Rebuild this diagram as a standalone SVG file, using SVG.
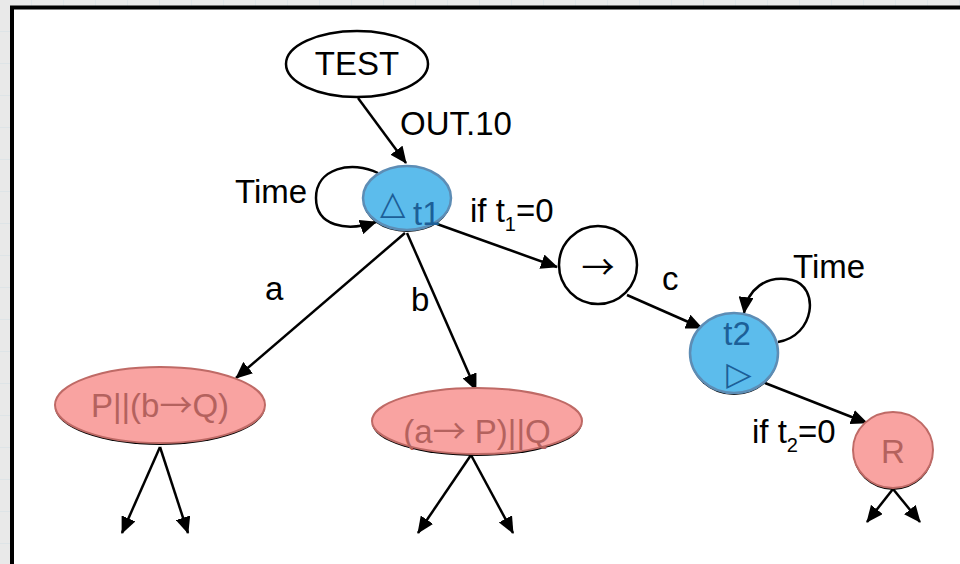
<svg xmlns="http://www.w3.org/2000/svg" width="960" height="564" viewBox="0 0 960 564">
<defs>
<pattern id="grid" width="32" height="32" patternUnits="userSpaceOnUse">
<rect width="32" height="32" fill="#e9e9e9"/>
<path d="M32 0V32M0 32H32" stroke="#d3dfe6" stroke-width="1"/>
</pattern>
<marker id="ah" markerUnits="userSpaceOnUse" markerWidth="17" markerHeight="15" refX="16" refY="7.5" orient="auto">
<path d="M0,0 L17,7.5 L0,15 z" fill="#000"/>
</marker>
<style>
text{font-family:"Liberation Sans",Arial,sans-serif;font-size:33px;fill:#000}
.pinkt{fill:#b4625e}
.bluet{fill:#1c5f98}
.sym{font-family:"DejaVu Sans","Liberation Sans",sans-serif}
.arr{font-family:"Noto Sans CJK SC","DejaVu Sans",sans-serif}
.edge{fill:none;stroke:#000;stroke-width:2.5;marker-end:url(#ah)}
.pink{fill:#f9a3a1;stroke:#bf6a66;stroke-width:2}
.blue{fill:#5cbcec;stroke:#5d8db5;stroke-width:2.5}
.shadow{fill:#000}
</style>
</defs>
<rect x="0" y="0" width="960" height="564" fill="url(#grid)"/>
<rect x="14" y="9" width="960" height="570" fill="#fff" stroke="#888" stroke-width="2" opacity="0.5"/>
<rect x="12" y="7.5" width="960" height="570" fill="#fff" stroke="#000" stroke-width="4"/>

<g id="connectors">
<path class="edge" d="M358,98 L406,163"/>
<path class="edge" d="M378,173 C352,160 316,168 316,198 C316,226 346,232 376,222"/>
<path class="edge" d="M437,224 L557,267"/>
<path class="edge" d="M405,233 L236,378"/>
<path class="edge" d="M407,233 L476,390"/>
<path class="edge" d="M627,295 L702,328"/>
<path class="edge" d="M778,342 C815,336 820,287 792,280 C766,274 747,290 744,313"/>
<path class="edge" d="M765,383 L867,423"/>
<path class="edge" d="M160,447 L122,533"/>
<path class="edge" d="M160,447 L188,533"/>
<path class="edge" d="M471,455 L418,533"/>
<path class="edge" d="M471,455 L513,533"/>
<path class="edge" d="M893,489 L867,522"/>
<path class="edge" d="M893,489 L920,522"/>
</g>

<g id="labels">
<text x="400" y="135">OUT.10</text>
<text x="235" y="203">Time</text>
<text x="470" y="222">if t<tspan font-size="20" dy="9">1</tspan><tspan dy="-9">=0</tspan></text>
<text x="662" y="290">c</text>
<text x="793" y="278">Time</text>
<text x="265" y="300">a</text>
<text x="411" y="311">b</text>
<text x="752" y="443">if t<tspan font-size="20" dy="9">2</tspan><tspan dy="-9">=0</tspan></text>
</g>

<g id="node-test">
<ellipse cx="357" cy="64" rx="71" ry="33" fill="#fff" stroke="#000" stroke-width="2.5"/>
<text x="357" y="75" text-anchor="middle" font-size="34">TEST</text>
</g>

<g id="node-delta-t1">
<ellipse class="shadow" cx="407" cy="200" rx="44" ry="32"/>
<ellipse class="blue" cx="407" cy="198" rx="44" ry="32"/>
<text class="sym bluet" x="380" y="214" font-size="38">△</text>
<text class="bluet" x="413" y="225" font-size="21">t1</text>
</g>

<g id="node-prefix">
<circle cx="598" cy="265" r="39" fill="#fff" stroke="#000" stroke-width="2.5"/>
<text class="arr" x="598" y="279" text-anchor="middle" font-size="42">→</text>
</g>

<g id="node-t2">
<ellipse class="shadow" cx="734" cy="355" rx="44" ry="40"/>
<ellipse class="blue" cx="734" cy="353" rx="44" ry="40"/>
<text class="bluet" x="737" y="345" text-anchor="middle" font-size="29">t2</text>
<text class="sym bluet" x="739" y="385" text-anchor="middle" font-size="34">▷</text>
</g>

<g id="node-p">
<ellipse class="shadow" cx="160" cy="407" rx="105" ry="38"/>
<ellipse class="pink" cx="160" cy="405" rx="105" ry="38"/>
<text class="pinkt" x="160" y="417" text-anchor="middle">P||(b<tspan class="arr">→</tspan>Q)</text>
</g>

<g id="node-q">
<ellipse class="shadow" cx="477" cy="423" rx="105" ry="33"/>
<ellipse class="pink" cx="477" cy="421" rx="105" ry="33"/>
<text class="pinkt" x="477" y="443" text-anchor="middle">(a<tspan class="arr">→</tspan> P)||Q</text>
</g>

<g id="node-r">
<ellipse class="shadow" cx="893" cy="452" rx="40" ry="38"/>
<ellipse class="pink" cx="893" cy="450" rx="40" ry="38"/>
<text class="pinkt" x="893" y="463" text-anchor="middle">R</text>
</g>
</svg>
